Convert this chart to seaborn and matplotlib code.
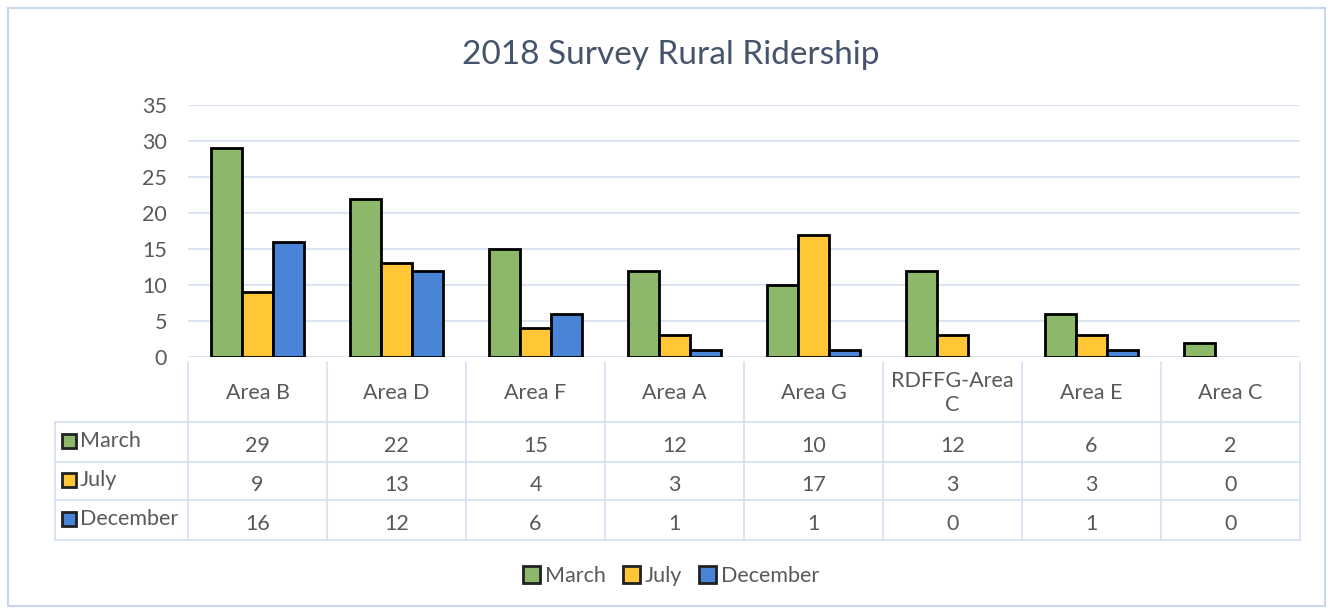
import numpy as np
import pandas as pd
import matplotlib
matplotlib.use('Agg')
import matplotlib.pyplot as plt
import matplotlib.transforms as mtransforms
from matplotlib.patches import Rectangle, Patch
from matplotlib.lines import Line2D
import seaborn as sns

# data
areas = ['Area B', 'Area D', 'Area F', 'Area A', 'Area G', 'RDFFG-Area\nC', 'Area E', 'Area C']
months = ['March', 'July', 'December']
march = [29, 22, 15, 12, 10, 12, 6, 2]
july = [9, 13, 4, 3, 17, 3, 3, 0]
december = [16, 12, 6, 1, 1, 0, 1, 0]
colors = ['#8DB86A', '#FFC636', '#4A84D6']

series = [march, july, december]
df = pd.DataFrame({
    'area': areas * 3,
    'month': np.repeat(months, len(areas)),
    'riders': march + july + december,
})

sns.set_theme(style='white')
plt.rcParams['font.family'] = ['Lato', 'DejaVu Sans']

W, H = 1333, 613
grid_col = '#D3DFF1'
txt_col = '#595959'
fs = 15.5


def fx(px):
    return px / W


def fy(py):
    return 1 - py / H


fig = plt.figure(figsize=(W / 100, H / 100), dpi=100)
ax = fig.add_axes([fx(188), fy(357), fx(1300) - fx(188), fy(105) - fy(357)])

sns.barplot(data=df, x='area', y='riders', hue='month', palette=colors,
            width=0.67, edgecolor='black', linewidth=2, saturation=1,
            legend=False, ax=ax)
for p in ax.patches:
    if p.get_height() == 0:
        p.set_linewidth(0)

ax.set_xlim(-0.5, len(areas) - 0.5)
ax.set_ylim(0, 35)
ax.set_yticks(range(0, 36, 5))
ax.set_xticks([])
ax.set_xlabel('')
ax.set_ylabel('')
for s in ax.spines.values():
    s.set_visible(False)
ax.yaxis.grid(True, color=grid_col, lw=1.2)
ax.set_axisbelow(True)
ax.tick_params(axis='y', labelsize=15.5, labelcolor=txt_col, pad=15, length=0)

# data table under the plot
trans = mtransforms.blended_transform_factory(ax.transData, fig.transFigure)
for i in range(len(areas) + 1):
    fig.add_artist(Line2D([i - 0.5, i - 0.5], [fy(362), fy(540)], transform=trans,
                          color=grid_col, lw=1.2))
fig.add_artist(Line2D([fx(55), fx(55)], [fy(422), fy(540)], transform=fig.transFigure,
                      color=grid_col, lw=1.2))
for yy in [422, 462, 500, 540]:
    fig.add_artist(Line2D([fx(55), fx(1300)], [fy(yy), fy(yy)], transform=fig.transFigure,
                          color=grid_col, lw=1.2))

for i, a in enumerate(areas):
    fig.text(i, fy(393), a, transform=trans, ha='center', va='center',
             fontsize=fs, color=txt_col, linespacing=1.3)

row_y = [441, 480, 519]
for m, vals, c, yy in zip(months, series, colors, row_y):
    fig.add_artist(Rectangle((fx(62), fy(yy + 7)), fx(14), fy(0) - fy(14),
                             transform=fig.transFigure, facecolor=c,
                             edgecolor='#222222', lw=2))
    fig.text(fx(80), fy(yy), m, ha='left', va='center', fontsize=fs, color=txt_col)
    for i, v in enumerate(vals):
        fig.text(i, fy(yy + 5), str(v), transform=trans, ha='center', va='center',
                 fontsize=fs, color=txt_col)

fig.text(fx(671), fy(55), '2018 Survey Rural Ridership', ha='center', va='center',
         fontsize=24, color='#44546A')

handles = [Patch(facecolor=c, edgecolor='#222222', lw=2) for c in colors]
fig.legend(handles, months, loc='center', bbox_to_anchor=(fx(671), fy(576)),
           ncol=3, frameon=False, fontsize=fs, handlelength=0.8, handleheight=0.8,
           handletextpad=0.2, columnspacing=0.8, labelcolor=txt_col)

fig.add_artist(Rectangle((fx(8), fy(606)), fx(1325) - fx(8), fy(8) - fy(606),
                         transform=fig.transFigure, fill=False,
                         edgecolor='#C9D7EE', lw=1.5))

fig.savefig('out.png', dpi=100)
